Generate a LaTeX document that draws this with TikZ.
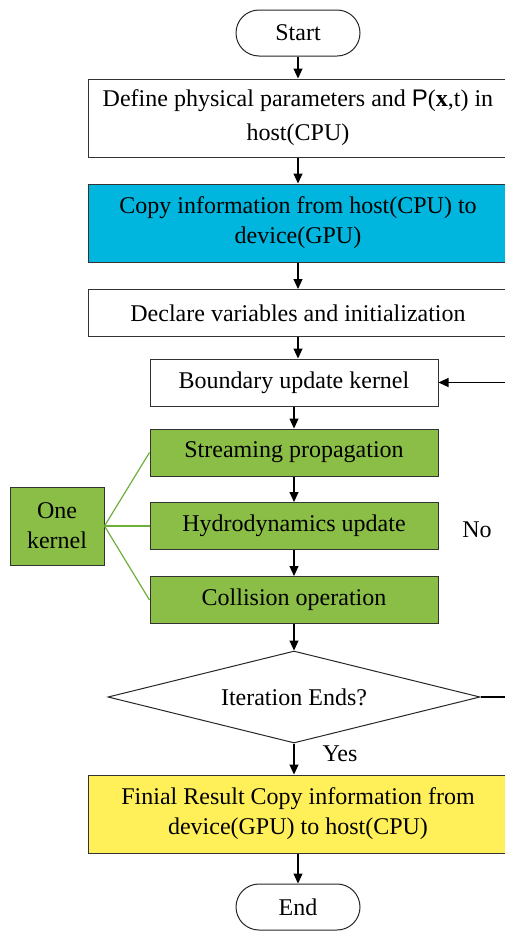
\documentclass[tikz,border=0pt]{standalone}
\usepackage{fontspec}
\setmainfont{Liberation Serif}
\setsansfont{Liberation Sans}
\usetikzlibrary{shapes.geometric,arrows.meta}
\definecolor{cyanfill}{RGB}{0,182,222}
\definecolor{greenfill}{RGB}{138,190,70}
\definecolor{yellowfill}{RGB}{255,240,90}
\definecolor{linkgreen}{RGB}{110,175,60}
\begin{document}
\begin{tikzpicture}[x=1pt,y=-1pt,
  every node/.style={font=\fontsize{24}{30}\selectfont, inner sep=0pt, align=center},
  box/.style={draw=black!80, line width=1pt, minimum height=47pt},
  widebox/.style={box, minimum width=420pt},
  narrowbox/.style={box, minimum width=288pt},
  terminal/.style={draw=black!85, line width=1pt, rounded corners=23pt, minimum width=124pt, minimum height=46pt},
  arr/.style={-{Triangle[length=10pt,width=9pt]}, line width=1.1pt, draw=black},
  glink/.style={draw=linkgreen, line width=1.2pt}]
\useasboundingbox (0,0) rectangle (504,932);
\node[terminal] (start) at (298,33) {Start};
\node[widebox, minimum height=78pt] (define) at (298,118) {Define physical parameters and {\sffamily P}(\textbf{x},t) in\\[4pt]host(CPU)};
\node[widebox, minimum height=78pt, fill=cyanfill] (copy) at (298,223) {Copy information from host(CPU) to\\device(GPU)};
\node[widebox] (declare) at (298,313) {Declare variables and initialization};
\node[narrowbox] (boundary) at (294,382.5) {Boundary update kernel};
\node[narrowbox, fill=greenfill] (stream) at (294,452.5) {Streaming propagation};
\node[narrowbox, fill=greenfill] (hydro) at (294,526) {Hydrodynamics update};
\node[narrowbox, fill=greenfill] (coll) at (294,600) {Collision operation};
\node[box, fill=greenfill, minimum width=94pt, minimum height=78pt] (one) at (57,526) {One\\kernel};
\node[diamond, draw=black!85, line width=1pt, aspect=4.04, minimum width=372pt, minimum height=92pt, inner sep=0pt] (iter) at (294,697) {};
\node at (294,697) {Iteration Ends?};
\node[widebox, minimum height=78pt, fill=yellowfill] (final) at (298,814) {Finial Result Copy information from\\device(GPU) to host(CPU)};
\node[terminal] (end) at (298,907) {End};
\node (no) at (477,530) {No};
\node (yes) at (340,754) {Yes};
\coordinate (rturn) at (512,697);
\coordinate (rtop) at (512,382.5);
\draw[arr] (start) -- (define);
\draw[arr] (define) -- (copy);
\draw[arr] (copy) -- (declare);
\draw[arr] (declare.south -| start) -- (boundary.north -| start);
\draw[arr] (boundary) -- (stream);
\draw[arr] (stream) -- (hydro);
\draw[arr] (hydro) -- (coll);
\draw[arr] (coll) -- (iter);
\draw[arr] (iter.south) -- (final.north -| iter.south);
\draw[arr] (final.south -| start) -- (end);
\draw[line width=1.1pt] (iter.east) -- (rturn) -- (rtop);
\draw[arr] (rtop) -- (boundary.east);
\draw[glink] (one.east) -- (stream.west);
\draw[glink] (one.east) -- (hydro.west);
\draw[glink] (one.east) -- (coll.west);
\end{tikzpicture}
\end{document}
